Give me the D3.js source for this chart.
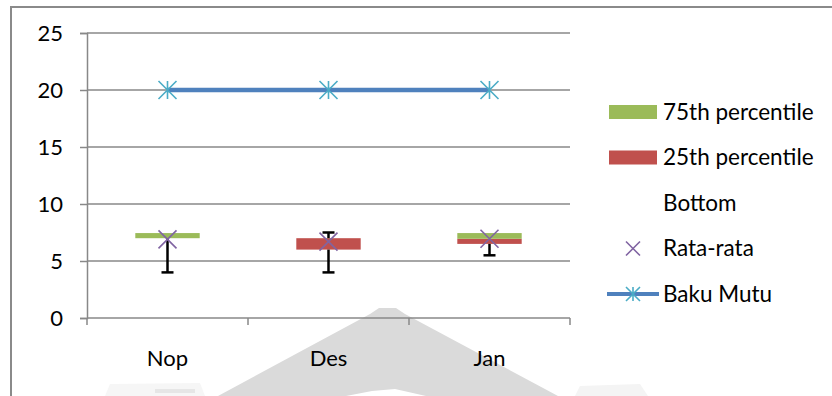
<!DOCTYPE html>
<html>
<head>
<meta charset="utf-8">
<script src="https://cdn.jsdelivr.net/npm/d3@7"></script>
<style>
  html, body { margin: 0; padding: 0; background: #fff; }
  svg { display: block; }
  text { font-family: Lato, "Liberation Sans", sans-serif; fill: #000; }
</style>
</head>
<body>
<svg id="chart" width="832" height="396"></svg>
<script>
// Box-plot style summary per month (stacked: Bottom + 25th + 75th, with whiskers)
const categories = ["Nop", "Des", "Jan"];
const bottom     = [7.0, 6.0, 6.5];   // first quartile (invisible base)
const p25        = [0.0, 1.0, 0.45];  // median - Q1
const p75        = [0.45, 0.0, 0.5];  // Q3 - median
const whiskerLow = [3.0, 2.0, 1.0];   // Q1 - minimum
const whiskerHigh= [0.0, 0.5, 0.0];   // maximum - Q3
const rataRata   = [6.9, 6.7, 6.95];  // mean
const bakuMutu   = [20, 20, 20];      // quality standard
const yTicks     = [0, 5, 10, 15, 20, 25];
const legendLabels = ["75th percentile", "25th percentile", "Bottom", "Rata-rata", "Baku Mutu"];

const C = {
  green: "#9BBB59", red: "#C0504D", purple: "#8064A2",
  blue: "#4F81BD", cyan: "#4BACC6", grid: "#888888", frame: "#8a8a8a"
};

const svg = d3.select("#chart");

// faint background emblem
const wm = svg.append("g");
wm.append("path")
  .attr("d", "M218,396 L370,314 L379,308 L396,308 L405,314 L558,396 Z")
  .attr("fill", "#dadada");
wm.append("path")
  .attr("d", "M346,396 L372,391 L395,389 L426,396 Z")
  .attr("fill", "#ffffff");
wm.append("path")
  .attr("d", "M105,396 L110,384 L200,383 L205,396 Z")
  .attr("fill", "#f6f6f6");
wm.append("rect").attr("x", 155).attr("y", 389).attr("width", 40).attr("height", 4).attr("fill", "#e6e6e6");
wm.append("path")
  .attr("d", "M575,396 L580,386 L640,384 L648,396 Z")
  .attr("fill", "#f4f4f4");

// outer frame (top and left edges)
svg.append("path")
  .attr("d", "M11,396 L11,7 L832,7")
  .attr("fill", "none").attr("stroke", C.frame).attr("stroke-width", 2);

const x = d3.scaleBand().domain(categories).range([87, 570]).paddingInner(0).paddingOuter(0);
const y = d3.scaleLinear().domain([0, 25]).range([318, 33]);
const barW = x.bandwidth() * 0.4;
const cx = c => x(c) + x.bandwidth() / 2;

// horizontal gridlines
svg.append("g").selectAll("line").data(yTicks.filter(t => t > 0)).join("line")
  .attr("x1", 87).attr("x2", 570)
  .attr("y1", d => y(d)).attr("y2", d => y(d))
  .attr("stroke", C.grid).attr("stroke-width", 1.5);

// y axis
const yAxis = svg.append("g").attr("transform", "translate(87,0)")
  .call(d3.axisLeft(y).tickValues(yTicks).tickSize(7).tickPadding(17).tickFormat(d3.format("d")));
yAxis.select(".domain").attr("stroke", C.grid).attr("stroke-width", 1.5);
yAxis.selectAll(".tick line").attr("stroke", C.grid).attr("stroke-width", 1.5);
yAxis.selectAll(".tick text").style("font-size", "22px").attr("fill", "#000");

// x axis with ticks at category boundaries
const xAxisG = svg.append("g").attr("transform", "translate(0,318)");
xAxisG.append("line").attr("x1", 87).attr("x2", 570).attr("y1", 0).attr("y2", 0)
  .attr("stroke", C.grid).attr("stroke-width", 1.5);
const bounds = categories.map(c => x(c)).concat([x(categories[categories.length - 1]) + x.bandwidth()]);
xAxisG.selectAll("line.tk").data(bounds).join("line").attr("class", "tk")
  .attr("x1", d => d).attr("x2", d => d).attr("y1", 0).attr("y2", 7)
  .attr("stroke", C.grid).attr("stroke-width", 1.5);
xAxisG.selectAll("text").data(categories).join("text")
  .attr("x", d => cx(d)).attr("y", 40).attr("dy", "0.35em")
  .attr("text-anchor", "middle").style("font-size", "22px").text(d => d);

// stacked boxes
const rows = categories.map((c, i) => ({
  c, b: bottom[i], q1: p25[i], q3: p75[i], lo: whiskerLow[i], hi: whiskerHigh[i], m: rataRata[i]
}));
const g = svg.append("g");
g.selectAll("rect.r25").data(rows).join("rect").attr("class", "r25")
  .attr("x", d => cx(d.c) - barW / 2).attr("width", barW)
  .attr("y", d => y(d.b + d.q1)).attr("height", d => y(d.b) - y(d.b + d.q1))
  .attr("fill", C.red);
g.selectAll("rect.r75").data(rows).join("rect").attr("class", "r75")
  .attr("x", d => cx(d.c) - barW / 2).attr("width", barW)
  .attr("y", d => y(d.b + d.q1 + d.q3)).attr("height", d => y(d.b + d.q1) - y(d.b + d.q1 + d.q3))
  .attr("fill", C.green);

// whiskers
const capW = 12;
const wk = g.append("g").attr("stroke", "#000").attr("stroke-width", 2.5);
rows.forEach(d => {
  const xc = cx(d.c);
  if (d.lo > 0) {
    wk.append("line").attr("x1", xc).attr("x2", xc).attr("y1", y(d.b)).attr("y2", y(d.b - d.lo));
    wk.append("line").attr("x1", xc - capW / 2).attr("x2", xc + capW / 2).attr("y1", y(d.b - d.lo)).attr("y2", y(d.b - d.lo));
  }
  if (d.hi > 0) {
    const top = d.b + d.q1 + d.q3;
    wk.append("line").attr("x1", xc).attr("x2", xc).attr("y1", y(top)).attr("y2", y(top + d.hi));
    wk.append("line").attr("x1", xc - capW / 2).attr("x2", xc + capW / 2).attr("y1", y(top + d.hi)).attr("y2", y(top + d.hi));
  }
});

// mean markers (×)
const xMark = s => `M${-s},${-s}L${s},${s}M${-s},${s}L${s},${-s}`;
g.selectAll("path.mean").data(rows).join("path").attr("class", "mean")
  .attr("transform", d => `translate(${cx(d.c)},${y(d.m)})`)
  .attr("d", xMark(9)).attr("stroke", C.purple).attr("stroke-width", 1.6).attr("fill", "none");

// quality standard line with star markers
const starMark = s => `M0,${-s}L0,${s}M${-s},${-s}L${s},${s}M${-s},${s}L${s},${-s}`;
const line = d3.line().x(d => cx(d.c)).y(d => y(d.v));
const bm = categories.map((c, i) => ({ c, v: bakuMutu[i] }));
svg.append("path").datum(bm).attr("d", line)
  .attr("fill", "none").attr("stroke", C.blue).attr("stroke-width", 4.5);
svg.selectAll("path.star").data(bm).join("path").attr("class", "star")
  .attr("transform", d => `translate(${cx(d.c)},${y(d.v)})`)
  .attr("d", starMark(9)).attr("stroke", C.cyan).attr("stroke-width", 1.6).attr("fill", "none");

// legend
const lg = svg.append("g");
const ly = i => 112 + i * 45.5;
lg.append("rect").attr("x", 609).attr("y", ly(0) - 7).attr("width", 48).attr("height", 14).attr("fill", C.green);
lg.append("rect").attr("x", 609).attr("y", ly(1) - 7).attr("width", 48).attr("height", 14).attr("fill", C.red);
lg.append("path").attr("transform", `translate(633,${ly(3)})`).attr("d", xMark(7))
  .attr("stroke", C.purple).attr("stroke-width", 1.6).attr("fill", "none");
lg.append("line").attr("x1", 607).attr("x2", 659).attr("y1", ly(4)).attr("y2", ly(4))
  .attr("stroke", C.blue).attr("stroke-width", 4);
lg.append("path").attr("transform", `translate(633,${ly(4)})`).attr("d", starMark(7))
  .attr("stroke", C.cyan).attr("stroke-width", 1.6).attr("fill", "none");
lg.selectAll("text").data(legendLabels).join("text")
  .attr("x", 663).attr("y", (d, i) => ly(i)).attr("dy", "0.35em")
  .style("font-size", "22.5px").text(d => d);
</script>
</body>
</html>
